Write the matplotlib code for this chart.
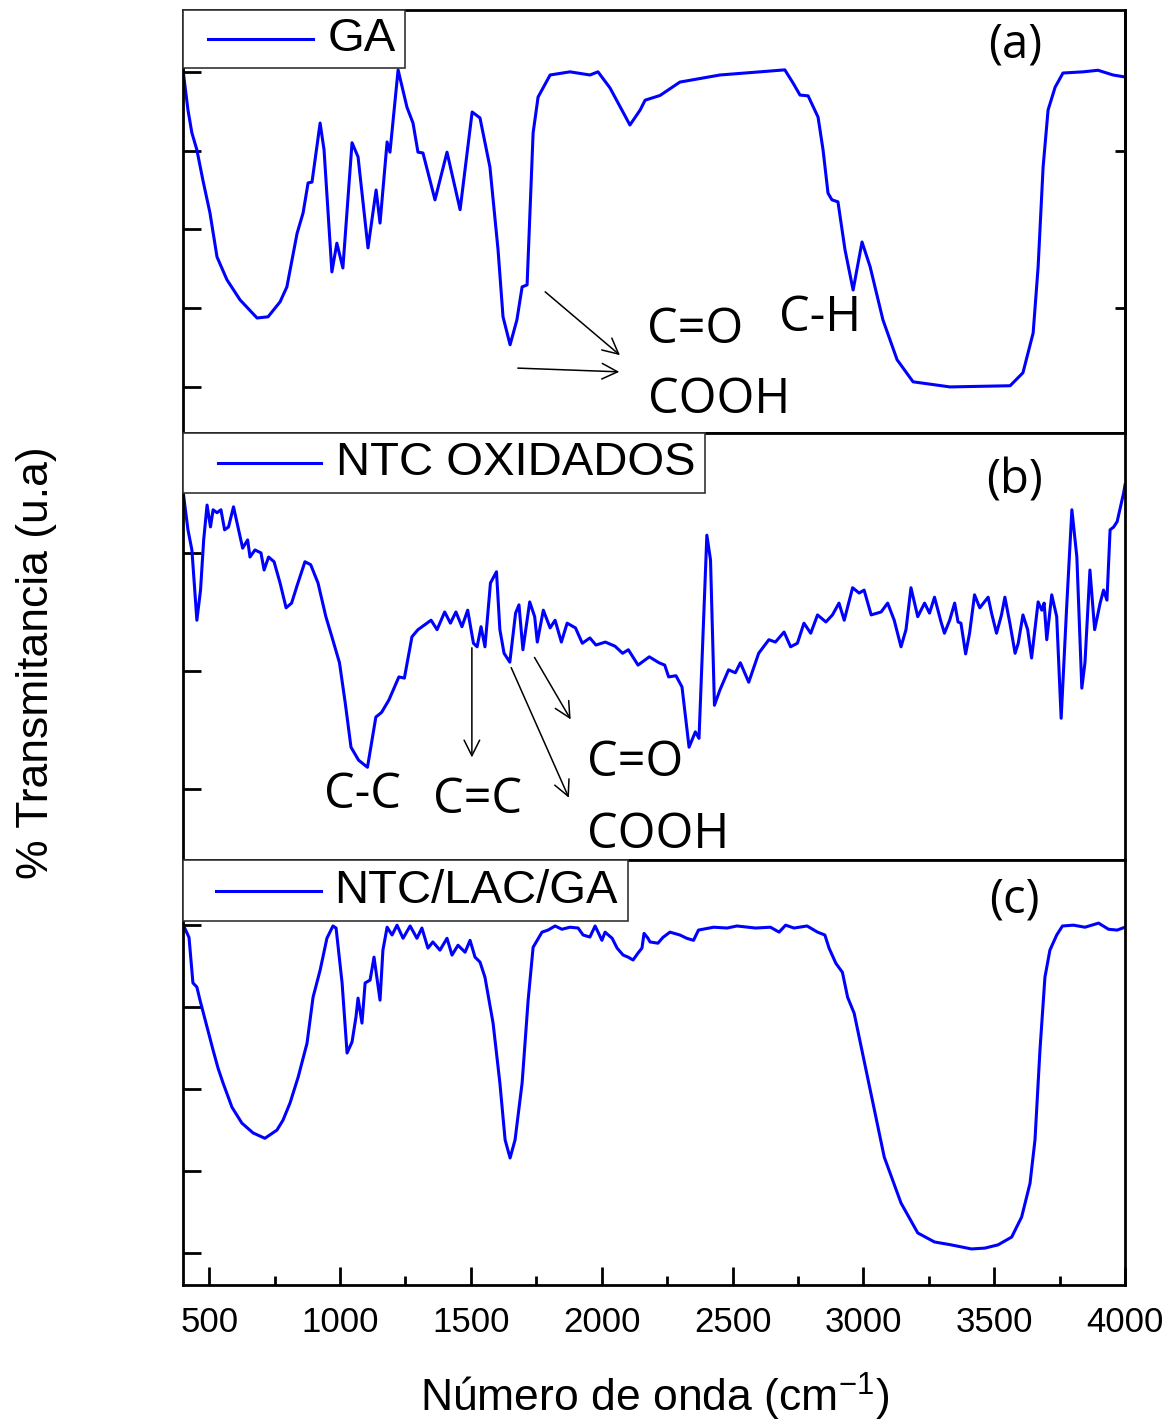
import matplotlib
matplotlib.use("Agg")
import matplotlib.pyplot as plt
from matplotlib.patches import Rectangle

# FTIR spectra (wavenumber in cm-1, transmittance in arbitrary units)
ga_points = [(400, 80.5), (419, 70.3), (434, 64.5), (453, 60.2), (476, 52.5), (503, 44.2), (530, 33), (568, 27.2),
             (618, 22.1), (683, 17.5), (725, 17.8), (771, 21.6), (797, 25.4), (836, 39), (859, 44.2), (878, 51.8),
             (893, 52), (924, 67), (939, 60.2), (969, 29.2), (988, 36.5), (1011, 30.2), (1046, 62), (1069, 58.4),
             (1107, 35.3), (1138, 50), (1153, 41.6), (1180, 62.2), (1191, 59.6), (1222, 80.5), (1256, 71), (1279, 67),
             (1298, 59.6), (1317, 59.4), (1363, 47.5), (1409, 59.6), (1459, 45), (1505, 69.8), (1535, 68.3),
             (1573, 55.8), (1604, 34.8), (1623, 17.8), (1650, 10.7), (1676, 17), (1696, 25.4), (1715, 25.9),
             (1738, 64.5), (1757, 73.6), (1803, 79.2), (1879, 80), (1955, 79.2), (1986, 80), (2032, 75.9),
             (2108, 66.5), (2147, 70.3), (2166, 72.8), (2223, 74), (2299, 77.4), (2452, 79.2), (2605, 80),
             (2700, 80.5), (2731, 77.2), (2758, 74.1), (2789, 73.9), (2827, 68.5), (2846, 60.2), (2865, 49.2),
             (2880, 47.5), (2903, 47), (2930, 34.8), (2961, 24.6), (2995, 36.8), (3026, 30.5), (3075, 17),
             (3129, 6.9), (3190, 1.3), (3331, 0), (3561, 0.3), (3610, 3.6), (3649, 13.7), (3668, 30.5),
             (3687, 55.8), (3706, 70.3), (3733, 76.1), (3763, 79.7), (3840, 80), (3897, 80.4), (3954, 79.2),
             (4000, 78.7)]

ntc_points = [(400, 50.5), (419, 43.9), (434, 40.5), (453, 28.6), (467, 33.7), (479, 42.2), (492, 48.1), (505, 44.4),
              (515, 47.3), (530, 46.8), (545, 47.3), (559, 43.9), (574, 44.4), (593, 47.8), (610, 44.4), (628, 40.8),
              (647, 42.2), (656, 39.3), (675, 40.5), (698, 40), (710, 37.1), (727, 39.3), (748, 38.5), (771, 34.9),
              (794, 30.7), (815, 31.5), (837, 34.6), (866, 38.5), (888, 38), (916, 34.9), (946, 29.2), (969, 25.8),
              (998, 21.4), (1020, 14.6), (1042, 7.1), (1071, 4.9), (1105, 3.7), (1137, 12.2), (1159, 13),
              (1187, 15.1), (1225, 19), (1246, 18.8), (1275, 25.8), (1298, 27), (1348, 28.6), (1371, 27),
              (1400, 30), (1422, 28.1), (1443, 30), (1466, 27.5), (1488, 30.3), (1510, 24.7), (1524, 24.1),
              (1539, 27.5), (1554, 24.1), (1575, 34.9), (1598, 36.8), (1611, 27), (1627, 23), (1649, 21.5),
              (1671, 29.8), (1684, 31.2), (1699, 23.6), (1725, 31.7), (1744, 29.2), (1754, 24.9), (1777, 30.3),
              (1803, 27.3), (1822, 28.6), (1846, 24.9), (1868, 28.1), (1900, 27.3), (1926, 24.7), (1955, 25.6),
              (1978, 24.4), (2014, 24.9), (2051, 24.2), (2080, 23), (2102, 23.6), (2139, 21), (2182, 22.4),
              (2219, 21.4), (2241, 21), (2256, 19), (2284, 19.2), (2307, 17.3), (2334, 7.1), (2358, 9.7),
              (2372, 8.6), (2402, 43), (2416, 38.8), (2431, 14.2), (2452, 16.8), (2485, 20.2), (2511, 19.7),
              (2530, 21.4), (2562, 18.1), (2600, 23), (2639, 25.3), (2664, 24.9), (2697, 26.6), (2722, 24.1),
              (2748, 24.7), (2773, 28.1), (2799, 26.4), (2825, 29.5), (2857, 28.3), (2882, 29.5), (2907, 31.5),
              (2927, 28.6), (2959, 34.1), (2984, 33.2), (3003, 33.7), (3030, 29.5), (3068, 30), (3093, 31.5),
              (3118, 28.6), (3144, 24.1), (3163, 27), (3182, 34.1), (3208, 29.2), (3234, 31.5), (3253, 29.8),
              (3272, 32.5), (3297, 28.3), (3310, 26.4), (3330, 28.6), (3349, 31.5), (3362, 28.3), (3373, 28.1),
              (3391, 22.9), (3406, 26.4), (3425, 32.9), (3445, 30.7), (3477, 32.5), (3490, 29.8), (3509, 26.4),
              (3528, 29.5), (3541, 32.5), (3560, 28.1), (3580, 23), (3592, 24.7), (3610, 29.5), (3628, 27),
              (3643, 22.2), (3668, 31.7), (3682, 30.3), (3691, 31.5), (3701, 25.3), (3720, 32.9), (3739, 29.2),
              (3756, 12), (3777, 30.8), (3797, 47.3), (3816, 39.3), (3835, 17.1), (3847, 21.4), (3866, 37.1),
              (3884, 27), (3905, 31.5), (3918, 33.7), (3931, 32), (3943, 43.9), (3957, 44.4), (3970, 45.3),
              (3995, 50.2), (4000, 51.5)]

lac_points = [(400, 80.2), (423, 77), (438, 65.9), (453, 64.9), (465, 61.7), (492, 55.1), (515, 49.5), (534, 45.1),
              (553, 41.5), (587, 35.6), (625, 31.7), (668, 29.3), (713, 28), (759, 30), (782, 32.4), (809, 36.6),
              (840, 42.9), (874, 51.2), (897, 62.4), (924, 69), (950, 76.8), (973, 79.8), (985, 79.3), (1008, 65.9),
              (1027, 48.8), (1046, 51.5), (1061, 57.6), (1069, 62.2), (1084, 56.1), (1096, 65.9), (1115, 66.6),
              (1130, 72.2), (1153, 61.7), (1164, 73.9), (1180, 79.5), (1199, 77.6), (1218, 80), (1241, 76.8),
              (1268, 79.8), (1294, 76.8), (1313, 79.3), (1336, 74.4), (1355, 75.9), (1382, 73.9), (1409, 76.8),
              (1428, 72.7), (1451, 75.1), (1478, 73.4), (1497, 76.3), (1516, 72.2), (1535, 71), (1554, 67.3),
              (1585, 56.1), (1611, 41.5), (1631, 27.6), (1650, 23.2), (1669, 27.6), (1696, 41.5), (1719, 61.7),
              (1738, 74.6), (1772, 78.3), (1795, 78.8), (1822, 79.8), (1848, 79), (1879, 79.5), (1910, 79.3),
              (1929, 77.6), (1955, 77.1), (1975, 79.8), (2001, 76.3), (2013, 78.3), (2040, 76.8), (2059, 74.4),
              (2082, 72.7), (2101, 72.2), (2120, 71.5), (2139, 73.2), (2154, 74.4), (2162, 78), (2177, 76.8),
              (2185, 75.9), (2215, 75.6), (2234, 77), (2261, 78.3), (2299, 77.6), (2325, 76.8), (2351, 76.3),
              (2370, 78.8), (2428, 79.5), (2479, 79.3), (2517, 79.8), (2588, 79.3), (2645, 79.5), (2678, 78.3),
              (2703, 80), (2735, 79.3), (2785, 79.8), (2825, 78.3), (2853, 77.6), (2869, 74.4), (2895, 70.7),
              (2920, 68.5), (2940, 62.4), (2965, 58.5), (3016, 42.9), (3080, 23.4), (3144, 12.2), (3208, 4.9),
              (3272, 2.7), (3335, 2), (3413, 1), (3464, 1.2), (3515, 2), (3567, 3.9), (3605, 8.8), (3637, 17),
              (3656, 27.6), (3675, 49.5), (3694, 67.3), (3713, 73.9), (3739, 77.6), (3761, 79.8), (3803, 80),
              (3847, 79.5), (3899, 80.5), (3937, 79), (3970, 78.8), (4000, 79.5)]

labels = ["GA", "NTC OXIDADOS", "NTC/LAC/GA"]
panel_tags = ["(a)", "(b)", "(c)"]
ylims = [(-11.7, 95.7), (-12.0, 60.3), (-7.8, 95.9)]
yticks = [[0, 20, 40, 60, 80], [0, 20, 40, 60], [0, 20, 40, 60, 80]]
xticks_major = [500, 1000, 1500, 2000, 2500, 3000, 3500, 4000]
xticks_minor = [750, 1250, 1750, 2250, 2750, 3250, 3750]

# legend box layout in axes fractions: box width, box height, line start, line end, text start
legend_boxes = [(0.2357, 0.137, 0.0265, 0.138, 0.153),
                (0.554, 0.141, 0.037, 0.147, 0.162),
                (0.472, 0.144, 0.035, 0.146, 0.160)]
tag_y = [0.917, 0.888, 0.906]

sans = "Liberation Sans"
label_font = "Open Sans"

fig = plt.figure(figsize=(11.75, 14.25), dpi=100)
left, width = 183 / 1175, (1125 - 183) / 1175
bounds = [(10, 433), (433, 860), (860, 1285)]
axes = []
for top, bot in bounds:
    ax = fig.add_axes([left, 1 - bot / 1425, width, (bot - top) / 1425])
    axes.append(ax)

for i, (ax, pts) in enumerate(zip(axes, [ga_points, ntc_points, lac_points])):
    wn = [p[0] for p in pts]
    tr = [p[1] for p in pts]
    ax.plot(wn, tr, color="#0000ff", lw=2.2)
    ax.set_xlim(400, 4000)
    ax.set_ylim(*ylims[i])
    ax.set_yticks(yticks[i])
    ax.tick_params(axis="y", direction="in", length=13, width=2, labelleft=False)
    for s in ax.spines.values():
        s.set_linewidth(2)
    bw, bh, lx0, lx1, tx = legend_boxes[i]
    ax.add_patch(Rectangle((0, 1 - bh), bw, bh, transform=ax.transAxes, facecolor="white",
                           edgecolor="#333333", lw=1.2, zorder=5, clip_on=False))
    ax.plot([lx0, lx1], [1 - bh / 2, 1 - bh / 2], transform=ax.transAxes, color="#0000ff", lw=2.2, zorder=6)
    ax.text(tx, 1 - bh / 2, labels[i], transform=ax.transAxes, family=sans, fontsize=34,
            ha="left", va="center", zorder=7)
    ax.text(0.883, tag_y[i], panel_tags[i], transform=ax.transAxes,
            family=label_font, fontsize=34, ha="center", va="center")
    if i < 2:
        ax.tick_params(axis="x", bottom=False, labelbottom=False)

# right side ticks on the top panel
sec = axes[0].secondary_yaxis("right")
sec.set_yticks([20, 60])
sec.tick_params(direction="in", length=7, width=2, labelright=False)
sec.spines["right"].set_linewidth(2)

ax = axes[2]
ax.set_xticks(xticks_major)
ax.set_xticks(xticks_minor, minor=True)
ax.tick_params(axis="x", which="major", direction="in", length=13, width=2, pad=15)
ax.tick_params(axis="x", which="minor", direction="in", length=6.5, width=2)
for t in ax.get_xticklabels():
    t.set_family(sans)
    t.set_fontsize(25)
fig.text(655 / 1175, 1 - 1412 / 1425, "Número de onda (cm$^{\\mathregular{-1}}$)", family=sans, fontsize=32,
         ha="center", va="baseline")
fig.text(0.031, 0.535, "% Transmitancia (u.a)", rotation=90, family=sans,
         fontsize=32, ha="center", va="center")

# band assignments
arrow = dict(arrowstyle="->", lw=1.1, color="black", mutation_scale=28)
a = axes[0]
a.text(2357, 14.5, "C=O", family=label_font, fontsize=35, ha="center", va="center")
a.text(2448, -3.3, "COOH", family=label_font, fontsize=35, ha="center", va="center")
a.text(2834, 17.5, "C-H", family=label_font, fontsize=35, ha="center", va="center")
a.annotate("", xy=(2078, 7.6), xytext=(1776, 24.6), arrowprops=arrow)
a.annotate("", xy=(2078, 3.8), xytext=(1669, 4.8), arrowprops=arrow)

b = axes[1]
b.text(1084, -1.0, "C-C", family=label_font, fontsize=35, ha="center", va="center")
b.text(1524, -1.9, "C=C", family=label_font, fontsize=35, ha="center", va="center")
b.text(2127, 4.4, "C=O", family=label_font, fontsize=35, ha="center", va="center")
b.text(2215, -7.8, "COOH", family=label_font, fontsize=35, ha="center", va="center")
b.annotate("", xy=(1504, 4.9), xytext=(1504, 24.4), arrowprops=arrow)
b.annotate("", xy=(1879, -1.9), xytext=(1650, 21), arrowprops=arrow)
b.annotate("", xy=(1887, 11.4), xytext=(1738, 22.7), arrowprops=arrow)

fig.savefig("out.png", dpi=100)
